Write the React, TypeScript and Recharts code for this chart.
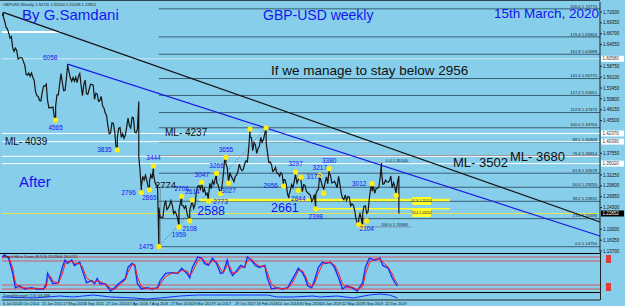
import React from "react";
import {
  ComposedChart,
  LineChart,
  Line,
  XAxis,
  YAxis,
  ReferenceLine,
  ReferenceDot,
  ReferenceArea,
} from "recharts";

const SKY = "#87ceeb";
const INK = "#101010";
const BLUE = "#1414f0";
const FIB = "#3b5e73";
const FONT = '"Liberation Sans", Arial, Helvetica, sans-serif';

// x is a week index: week 0 = 15 Jun 2014
const X_DOMAIN: [number, number] = [3, 449];
const Y_DOMAIN: [number, number] = [1.1346, 1.7444];

// weekly closes, with the week's extreme put in front where a pivot is marked
const closes2014 = [
  [3, 1.711], [4, 1.7191], [4, 1.708], [5, 1.698], [6, 1.683], [7, 1.679], [8, 1.669],
  [9, 1.656], [10, 1.66], [11, 1.632], [12, 1.624], [13, 1.632], [14, 1.626], [15, 1.605],
  [16, 1.608], [17, 1.609], [18, 1.608], [19, 1.599], [20, 1.59], [21, 1.568], [22, 1.566],
  [23, 1.571], [24, 1.563], [25, 1.571], [26, 1.561], [27, 1.553], [28, 1.526],
];
const closes2015 = [
  [29, 1.516], [30, 1.514], [31, 1.504], [32, 1.503], [33, 1.524], [34, 1.539], [35, 1.539],
  [36, 1.544], [37, 1.504], [38, 1.486], [39, 1.487], [40, 1.487], [41, 1.488], [42, 1.464],
  [43, 1.4565], [43, 1.49], [44, 1.518], [45, 1.518], [46, 1.544], [47, 1.57], [48, 1.548],
  [49, 1.528], [50, 1.529], [51, 1.557], [52, 1.593], [52, 1.588], [53, 1.574], [54, 1.559],
  [55, 1.551], [56, 1.56], [57, 1.551], [58, 1.561], [59, 1.548], [60, 1.563], [61, 1.57],
  [62, 1.541], [63, 1.516], [64, 1.543], [65, 1.554], [66, 1.521], [67, 1.519], [68, 1.531],
  [69, 1.544], [70, 1.543], [71, 1.542], [72, 1.507], [73, 1.522], [74, 1.52], [75, 1.502],
  [76, 1.504], [77, 1.514], [78, 1.491], [79, 1.486], [80, 1.474],
];
const closes2016 = [
  [81, 1.467], [82, 1.442], [83, 1.423], [84, 1.425], [85, 1.45], [86, 1.449], [87, 1.43],
  [88, 1.392], [89, 1.3835], [89, 1.413], [90, 1.436], [91, 1.438], [92, 1.414], [93, 1.423],
  [94, 1.412], [95, 1.42], [96, 1.439], [97, 1.461], [98, 1.443], [99, 1.437], [100, 1.463],
  [101, 1.462], [102, 1.427], [103, 1.425], [104, 1.434], [105, 1.5018], [105, 1.368],
  [106, 1.331], [107, 1.2796], [107, 1.295], [108, 1.319], [109, 1.31], [110, 1.322],
  [111, 1.309], [112, 1.293], [113, 1.2865], [113, 1.308], [114, 1.323], [115, 1.314],
  [116, 1.3444], [116, 1.326], [117, 1.305], [118, 1.297], [119, 1.297], [120, 1.1475],
  [120, 1.243], [121, 1.218], [122, 1.219], [123, 1.219], [124, 1.248], [125, 1.26],
  [126, 1.238], [127, 1.242], [128, 1.249], [129, 1.26], [130, 1.249], [131, 1.228], [132, 1.234],
];
const closes2017 = [
  [133, 1.227], [134, 1.217], [135, 1.1959], [135, 1.237], [136, 1.255], [137, 1.2706],
  [137, 1.249], [138, 1.248], [139, 1.241], [140, 1.247], [141, 1.229], [142, 1.218],
  [143, 1.2108], [143, 1.236], [144, 1.248], [145, 1.2614], [145, 1.255], [146, 1.241],
  [147, 1.252], [148, 1.283], [149, 1.295], [150, 1.296], [151, 1.288], [152, 1.3047],
  [152, 1.301], [153, 1.28], [154, 1.289], [155, 1.274], [156, 1.278], [157, 1.2588],
  [157, 1.272], [158, 1.302], [159, 1.289], [160, 1.308], [161, 1.3], [162, 1.313],
  [163, 1.3266], [163, 1.304], [164, 1.3], [165, 1.287], [166, 1.2773], [166, 1.28],
  [167, 1.293], [168, 1.32], [169, 1.359], [170, 1.3655], [170, 1.35], [171, 1.34],
  [172, 1.3027], [172, 1.306], [173, 1.328], [174, 1.319], [175, 1.313], [176, 1.306],
  [177, 1.319], [178, 1.322], [179, 1.332], [180, 1.349], [181, 1.338], [182, 1.333],
  [183, 1.336], [184, 1.35],
];
const closes2018 = [
  [185, 1.357], [186, 1.354], [187, 1.386], [188, 1.4345], [188, 1.415], [189, 1.414],
  [190, 1.382], [191, 1.402], [192, 1.396], [193, 1.375], [194, 1.387], [195, 1.393],
  [196, 1.414], [197, 1.402], [198, 1.409], [199, 1.424], [200, 1.4376], [200, 1.401],
  [201, 1.377], [202, 1.353], [203, 1.354], [204, 1.347], [205, 1.331], [206, 1.334],
  [207, 1.341], [208, 1.327], [209, 1.326], [210, 1.32], [211, 1.328], [212, 1.323],
  [213, 1.2956], [213, 1.311], [214, 1.311], [215, 1.3], [216, 1.275], [217, 1.2661],
  [217, 1.274], [218, 1.284], [219, 1.299], [220, 1.292], [221, 1.307], [222, 1.3297],
  [222, 1.321], [223, 1.303], [224, 1.311], [225, 1.315], [226, 1.3172], [226, 1.309],
  [227, 1.282], [228, 1.299], [229, 1.297], [230, 1.283], [231, 1.279], [232, 1.276],
  [233, 1.273], [234, 1.258], [235, 1.263], [236, 1.275],
];
const closes2019 = [
  [237, 1.2398], [237, 1.274], [238, 1.284], [239, 1.288], [240, 1.3217], [240, 1.319],
  [241, 1.307], [242, 1.294], [243, 1.288], [244, 1.305], [245, 1.318], [246, 1.301],
  [247, 1.338], [247, 1.328], [248, 1.321], [249, 1.303], [250, 1.304], [251, 1.307],
  [252, 1.3], [253, 1.291], [254, 1.319], [255, 1.3], [256, 1.278], [257, 1.266], [258, 1.262],
  [259, 1.274], [260, 1.26], [261, 1.27], [262, 1.269], [263, 1.247], [264, 1.252],
  [265, 1.249], [266, 1.237], [267, 1.216], [268, 1.204], [269, 1.2015], [269, 1.215],
  [270, 1.228], [271, 1.216], [272, 1.1958], [272, 1.229], [273, 1.246], [274, 1.247],
  [275, 1.229], [276, 1.233], [277, 1.266], [278, 1.291], [279, 1.3012], [279, 1.283],
  [280, 1.294], [281, 1.278], [282, 1.289], [283, 1.29], [284, 1.292], [285, 1.315],
  [286, 1.3514], [286, 1.333], [287, 1.3], [288, 1.301],
];
const closes2020 = [
  [289, 1.31], [290, 1.306], [291, 1.305], [292, 1.308], [293, 1.32], [294, 1.291],
  [295, 1.304], [296, 1.294], [297, 1.2725], [297, 1.282], [298, 1.305], [299, 1.32], [299, 1.2285],
];

// right price scale (labels hidden behind the level tags are left out)
const priceTicks = [
  1.72, 1.6935, 1.667, 1.6405, 1.5875, 1.561, 1.5345, 1.508, 1.4815, 1.455,
  1.3755, 1.3225, 1.296, 1.2695, 1.243, 1.19, 1.1635, 1.137,
];

// marked swing points (yellow dots)
const pivotLabels = [
  "4565", "3835", "3444", "2796", "2865", "1475", "2706", "1959", "2108", "2614", "3047",
  "3266", "2773", "3655", "3027", "2956", "3297", "2844", "3172", "2398", "3217", "3380",
  "3012", "2104", "", "", "", "", "", "", "",
];
const pivotWeeks = [
  43, 89, 116, 107, 113, 120, 137, 135, 143, 145, 152, 163, 166, 170, 172, 213, 222, 224, 226,
  237, 240, 247, 279, 275, 157, 188, 200, 243, 269, 272, 297,
];
const pivotPrices = [
  1.4565, 1.3835, 1.3444, 1.2796, 1.2865, 1.1475, 1.2706, 1.1959, 1.2108, 1.2614, 1.3047,
  1.3266, 1.2773, 1.3655, 1.3027, 1.2956, 1.3297, 1.2844, 1.3172, 1.2398, 1.3217, 1.338,
  1.3012, 1.2104, 1.2588, 1.4345, 1.4376, 1.278, 1.2015, 1.1958, 1.2725,
];
const pivotSides = [
  "bottom", "left", "top", "left", "bottom", "left", "top", "bottom", "bottom", "top", "top",
  "top", "bottom", "top", "bottom", "left", "top", "bottom", "right", "bottom", "top", "top",
  "left", "bottom", "top", "top", "top", "top", "top", "top", "top",
];

// big level notes on the chart
const noteTexts = ["2774", "2588", "2661"];
const noteWeeks = [125, 159, 214];
const notePrices = [1.2774, 1.2588, 1.2661];

// Fibonacci from the Oct-2016 low to the Apr-2018 high
const fibLow = 1.1475;
const fibHigh = 1.4376;
const fibStartWeek = 120;
const fibRatios = [0, 23.6, 38.2, 50, 61.8, 76.4, 88.1, 100, 112.8, 127.2, 141.4, 161.8, 176.4, 200];

// white "ML" levels
const whiteLevels = [1.6058, 1.4237, 1.4039, 1.368, 1.3502];
const whiteTagged = [1.6058, 1.4237, 1.4039, 1.3502];
const bidPrice = 1.22852;

// trend lines [week, price]
const blackTrend = [[4, 1.7191], [449, 1.2078]];
const blueTrend = [[52, 1.593], [449, 1.1737]];

// stochastic panel
const stochWeeks = [
  3, 5, 8, 11, 13, 16, 20, 25, 29, 34, 36, 37, 39, 41, 45, 48, 50, 52, 55, 57, 61, 63, 66, 70,
  72, 74, 76, 80, 84, 87, 90, 93, 95, 97, 100, 102, 104, 107, 111, 115, 119, 121, 125, 130, 134,
  137, 141, 143, 145, 149, 152, 154, 157, 160, 163, 166, 168, 171, 173, 175, 178, 181, 184, 186,
  189, 192, 195, 199, 201, 204, 208, 212, 216, 219, 222, 224, 227, 229, 231, 234, 236, 239, 242,
  244, 248, 251, 254, 257, 260, 264, 268, 272, 274, 277, 281, 285, 287, 291, 294, 296, 298,
];
const stochMain = [
  90, 95, 87, 49, 13, 18, 10, 13, 10, 10, 23, 49, 36, 23, 26, 64, 82, 74, 82, 69, 77, 56, 26, 31,
  23, 36, 23, 23, 5, 13, 23, 31, 36, 64, 74, 69, 23, 10, 13, 10, 13, 31, 49, 51, 49, 62, 49, 38,
  64, 90, 87, 74, 69, 87, 74, 49, 51, 82, 56, 44, 56, 69, 64, 90, 82, 69, 64, 69, 36, 10, 13, 10,
  13, 31, 49, 62, 51, 38, 18, 13, 31, 64, 77, 74, 77, 64, 38, 10, 18, 13, 5, 26, 64, 87, 82, 87,
  69, 62, 38, 26, 18,
];
const stochSignal = [
  86, 92, 91, 62, 25, 14, 13, 11, 12, 10, 15, 35, 42, 30, 24, 48, 72, 78, 79, 75, 73, 65, 38, 28,
  27, 30, 29, 22, 12, 9, 18, 27, 33, 52, 70, 72, 40, 16, 11, 12, 11, 22, 41, 50, 50, 56, 55, 44,
  52, 80, 88, 80, 72, 80, 79, 60, 50, 70, 66, 50, 51, 63, 66, 80, 85, 74, 67, 67, 50, 22, 12, 11,
  12, 22, 41, 56, 56, 45, 28, 16, 22, 50, 71, 76, 76, 70, 50, 22, 14, 15, 9, 16, 46, 76, 85, 85,
  77, 65, 48, 33, 24,
];
const stochLevels = [90, 80, 20, 10];

// lower strength line
const strengthWeeks = [
  3, 26, 37, 46, 56, 71, 84, 101, 111, 121, 136, 148, 160, 175, 190, 201, 208, 220, 235, 240,
  253, 265, 277, 285, 292, 298,
];
const strengthValues = [
  43, 29, 43, 57, 43, 71, 43, 29, 14, 29, 57, 71, 71, 71, 71, 71, 43, 43, 57, 43, 57, 29, 71,
  86, 71, 29,
];

// time scale labels
const dateTickWeeks = [3, 16, 32, 48, 64, 80, 96, 112, 128, 144, 160, 176, 192, 208, 224, 240, 256, 272, 288];
const dateTickLabels = [
  "6 Jul 2014", "5 Oct 2014", "25 Jan 2015", "17 May 2015", "6 Sep 2015", "27 Dec 2015",
  "17 Apr 2016", "7 Aug 2016", "27 Nov 2016", "19 Mar 2017", "9 Jul 2017", "29 Oct 2017",
  "18 Feb 2018", "10 Jun 2018", "30 Sep 2018", "20 Jan 2019", "12 May 2019", "1 Sep 2019",
  "22 Dec 2019",
];

const priceRows = [
  ...closes2014, ...closes2015, ...closes2016, ...closes2017, ...closes2018, ...closes2019, ...closes2020,
].map(([week, close]) => ({ week, close }));

const stochRows = stochWeeks.map((week, i) => ({ week, main: stochMain[i], signal: stochSignal[i] }));
const strengthRows = strengthWeeks.map((week, i) => ({ week, value: strengthValues[i] }));

const fibLevels = fibRatios.map((r) => ({ r, price: fibLow + ((fibHigh - fibLow) * r) / 100 }));

function AxisTag(props: any) {
  const { viewBox, tagText, bg, fg } = props;
  if (!viewBox) return null;
  const x = viewBox.x + viewBox.width + 1;
  const y = viewBox.y;
  return (
    <g>
      <rect x={x} y={y - 3} width={23} height={6} fill={bg} />
      <text x={x + 1.5} y={y + 1.6} fontSize={4.5} fill={fg}>
        {tagText}
      </text>
    </g>
  );
}

function FibTag(props: any) {
  const { viewBox, tagText } = props;
  if (!viewBox) return null;
  return (
    <text x={viewBox.x + viewBox.width - 3} y={viewBox.y - 1.3} fontSize={4.2} fill="#0b2030" textAnchor="end">
      {tagText}
    </text>
  );
}

function LevelBox(props: any) {
  const { viewBox } = props;
  if (!viewBox) return null;
  return <rect x={viewBox.x + viewBox.width + 6} y={viewBox.y - 2} width={5} height={4} fill="#e23a3a" />;
}

function DateTick(props: any) {
  const { x, y, payload } = props;
  const idx = dateTickWeeks.indexOf(payload.value);
  return (
    <text x={x + 1} y={y + 4.8} fontSize={3.8} fill="#111">
      {dateTickLabels[idx]}
    </text>
  );
}

function MainChart() {
  return (
    <ComposedChart width={625} height={253} data={priceRows} margin={{ top: 2, right: 0, bottom: 1, left: 2 }}>
      <XAxis type="number" dataKey="week" domain={X_DOMAIN} hide allowDataOverflow />
      <YAxis
        orientation="right"
        type="number"
        domain={Y_DOMAIN}
        allowDataOverflow
        ticks={priceTicks}
        interval={0}
        width={25}
        tickSize={2}
        tickMargin={1}
        tick={{ fontSize: 4.5, fill: INK }}
        tickFormatter={(v: number) => v.toFixed(5)}
        axisLine={{ stroke: "#222" }}
        tickLine={{ stroke: "#222" }}
      />

      {/* Fibonacci levels */}
      {fibLevels.map((f) => (
        <ReferenceLine
          key={`fib-${f.r}`}
          segment={[{ x: fibStartWeek, y: f.price }, { x: 449, y: f.price }]}
          stroke={f.r === 76.4 ? "#8d5c57" : FIB}
          strokeWidth={1}
          label={<FibTag tagText={`${f.r.toFixed(1)}  ${f.price.toFixed(5)}`} />}
        />
      ))}
      <ReferenceLine segment={[{ x: fibStartWeek, y: fibLow }, { x: 200, y: fibHigh }]} stroke="#4a4a4a" strokeDasharray="1 2" strokeWidth={0.8} />
      <ReferenceLine segment={[{ x: 121, y: 1.2926 }, { x: 121, y: 1.15 }]} stroke="#6f7f88" strokeWidth={0.8} />

      {/* short Fibonacci on the 2019 swing */}
      <ReferenceLine segment={[{ x: 273, y: 1.3514 }, { x: 308, y: 1.3514 }]} stroke="#6f7f88" strokeWidth={0.8} label={<FibTag tagText="0.0  1.35140" />} />
      <ReferenceLine segment={[{ x: 273, y: 1.1958 }, { x: 308, y: 1.1958 }]} stroke="#6f7f88" strokeWidth={0.8} label={<FibTag tagText="100.0  1.19580" />} />

      {/* white lines */}
      <ReferenceLine segment={[{ x: 3, y: 1.6712 }, { x: 47, y: 1.6712 }]} stroke="#ffffff" strokeWidth={2} />
      {whiteLevels.map((p) => (
        <ReferenceLine
          key={`w-${p}`}
          y={p}
          stroke="#ffffff"
          strokeOpacity={p === 1.6058 ? 0.6 : 1}
          strokeWidth={1}
          label={whiteTagged.includes(p) ? <AxisTag tagText={p.toFixed(5)} bg="#ffffff" fg="#333" /> : undefined}
        />
      ))}

      {/* yellow support levels */}
      <ReferenceLine y={bidPrice} stroke="#e6e44a" strokeWidth={1} label={<AxisTag tagText={bidPrice.toFixed(5)} bg="#000" fg="#fff" />} />
      <ReferenceLine segment={[{ x: 150, y: 1.2615 }, { x: 337, y: 1.2615 }]} stroke="#ffff2a" strokeWidth={2.5} />
      <ReferenceLine segment={[{ x: 236, y: 1.24 }, { x: 337, y: 1.24 }]} stroke="#ffff2a" strokeWidth={1.5} />
      <ReferenceArea x1={309} x2={323} y1={1.2493} y2={1.2688} fill="#ffff2a" fillOpacity={1} stroke="none" label={{ value: "61.8 1.25524", fontSize: 3.5, fill: "#222" }} />
      <ReferenceArea x1={309} x2={323} y1={1.22} y2={1.242} fill="#ffff2a" fillOpacity={1} stroke="none" label={{ value: "76.4 1.23252", fontSize: 3.5, fill: "#222" }} />

      {/* trend lines */}
      <ReferenceLine segment={blackTrend.map(([x, y]) => ({ x, y }))} stroke="#111" strokeWidth={1.2} />
      <ReferenceLine segment={blueTrend.map(([x, y]) => ({ x, y }))} stroke="#1a1ae6" strokeWidth={1.2} />

      <Line type="linear" dataKey="close" stroke="#161616" strokeWidth={1.2} dot={false} isAnimationActive={false} />

      {pivotWeeks.map((w, i) => (
        <ReferenceDot
          key={`pv-${i}`}
          x={w}
          y={pivotPrices[i]}
          r={2.6}
          fill="#ffee10"
          stroke="none"
          label={
            pivotLabels[i]
              ? { value: pivotLabels[i], position: pivotSides[i] as any, fontSize: 6.5, fill: BLUE, offset: 3 }
              : undefined
          }
        />
      ))}
      {noteTexts.map((t, i) => (
        <ReferenceDot
          key={`note-${t}`}
          x={noteWeeks[i]}
          y={notePrices[i]}
          r={0}
          fill="none"
          stroke="none"
          label={{
            value: t,
            position: i === 0 ? "top" : "bottom",
            fontSize: i === 0 ? 9.5 : 12.5,
            fill: i === 0 ? INK : BLUE,
            offset: 5,
          }}
        />
      ))}
    </ComposedChart>
  );
}

function StochPanel() {
  return (
    <LineChart width={625} height={40} data={stochRows} margin={{ top: 0, right: 25, bottom: 0, left: 2 }}>
      <XAxis type="number" dataKey="week" domain={X_DOMAIN} hide allowDataOverflow />
      <YAxis type="number" domain={[0, 100]} hide />
      {stochLevels.map((l) => (
        <ReferenceLine key={l} y={l} stroke="#e0474f" strokeWidth={0.9} label={<LevelBox />} />
      ))}
      <Line type="linear" dataKey="main" stroke="#1a2cff" strokeWidth={1.4} dot={false} isAnimationActive={false} />
      <Line type="linear" dataKey="signal" stroke="#ff1a1a" strokeWidth={1} dot={false} isAnimationActive={false} />
    </LineChart>
  );
}

function StrengthPanel() {
  return (
    <LineChart width={625} height={14} data={strengthRows} margin={{ top: 1, right: 25, bottom: 0, left: 2 }}>
      <XAxis
        type="number"
        dataKey="week"
        domain={X_DOMAIN}
        allowDataOverflow
        ticks={dateTickWeeks}
        interval={0}
        height={6}
        tickSize={0}
        tickMargin={0}
        tick={<DateTick />}
        axisLine={{ stroke: "#222" }}
      />
      <YAxis type="number" domain={[0, 100]} hide />
      <Line type="linear" dataKey="value" stroke="#1a2cff" strokeWidth={1} dot={false} isAnimationActive={false} />
    </LineChart>
  );
}

export default function App() {
  const abs = (top: number): React.CSSProperties => ({ position: "absolute", left: 0, top });
  return (
    <div style={{ position: "relative", width: 625, height: 306, background: SKY, overflow: "hidden", fontFamily: FONT }}>
      <style>{"body{margin:0}"}</style>
      <div style={abs(0)}>
        <MainChart />
      </div>
      <div style={abs(253)}>
        <StochPanel />
      </div>
      <div style={abs(292)}>
        <StrengthPanel />
      </div>

      {/* frame lines */}
      <div style={{ position: "absolute", left: 0, top: 0, width: 600, height: 1, background: "#2c4656" }} />
      <div style={{ position: "absolute", left: 0, top: 252.5, width: 600, height: 1.5, background: "#000" }} />
      <div style={{ position: "absolute", left: 0, top: 291.5, width: 600, height: 1.5, background: "#000" }} />
      <div style={{ position: "absolute", left: 600, top: 252, width: 1, height: 48, background: "#222" }} />

      <svg width={625} height={306} style={{ position: "absolute", left: 0, top: 0, pointerEvents: "none" }}>
        <text x={3} y={5.5} fontSize={4} fill="#222">GBPUSD,Weekly  1.30711 1.32000 1.20538 1.22852</text>
        <text x={22} y={19.5} fontSize={15} fill={BLUE}>By G.Samdani</text>
        <text x={263} y={19.5} fontSize={14} fill={BLUE}>GBP-USD weekly</text>
        <text x={494} y={18} fontSize={13.5} fill={BLUE}>15th March, 2020</text>
        <text x={271} y={74.5} fontSize={13.5} fill={INK}>If we manage to stay below 2956</text>
        <text x={43} y={59.5} fontSize={6.5} fill={BLUE}>6058</text>
        <text x={19} y={187} fontSize={15} fill={BLUE}>After</text>
        <text x={5} y={144.5} fontSize={10} fill={INK}>ML- 4039</text>
        <text x={165} y={135.5} fontSize={10} fill={INK}>ML- 4237</text>
        <text x={453} y={166.5} fontSize={13} fill={INK}>ML- 3502</text>
        <text x={510} y={160.5} fontSize={13} fill={INK}>ML- 3680</text>
        <text x={3} y={257.5} fontSize={4} fill="#222">Stoch HiLo Cross (8,3,3) 23.2904 18.0211</text>
        <text x={3} y={296.5} fontSize={4} fill="#222">TrendStrength (13) 63.488</text>
      </svg>
    </div>
  );
}
